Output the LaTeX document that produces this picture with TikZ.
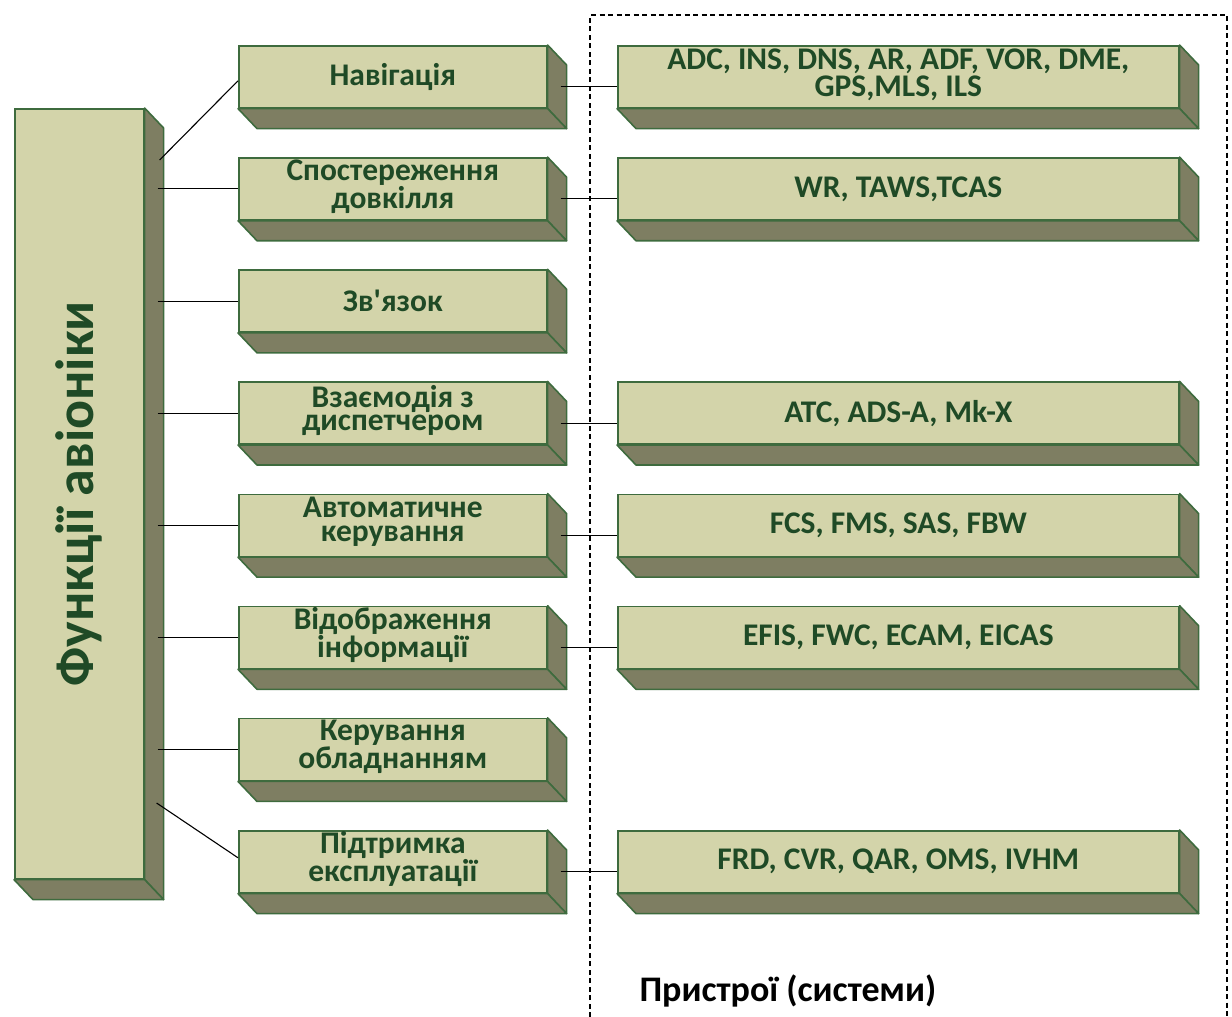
\documentclass[tikz,border=0pt]{standalone}
\usepackage{fontspec}
\setmainfont{Carlito}
\usetikzlibrary{calc,backgrounds}
\definecolor{face}{HTML}{D3D4AA}
\definecolor{side}{HTML}{7E7E62}
\definecolor{edge}{HTML}{3E6B3E}
\definecolor{txt}{HTML}{1F4A26}
\begin{document}
\begin{tikzpicture}[x=1pt,y=-1pt,
  front/.style={draw=edge, fill=face, line width=1.6pt, inner sep=0pt, anchor=north west},
  lbox/.style={front, minimum width=308pt, minimum height=62pt},
  rbox/.style={front, minimum width=561pt, minimum height=62pt},
  label/.style={inner sep=0pt, align=center, text=txt, font=\bfseries\fontsize{31.5}{23.5}\selectfont},
  rlabel/.style={label, font=\bfseries\fontsize{31.5}{26.5}\selectfont},
  depthface/.style={fill=side, draw=edge, line width=1.6pt, line join=round},
  link/.style={draw=black, line width=1.1pt}]
\useasboundingbox (0,0) rectangle (1232,1017);

% dashed frame
\draw[black, line width=1.2pt, dash pattern=on 5pt off 3.5pt] (590,1017) -- (590,15) -- (1227,15) -- (1227,1017);

% main box
\node[front, minimum width=129pt, minimum height=770pt] (main) at (14,108) {};
\node[rotate=90, font=\bfseries\fontsize{54}{54}\selectfont, text=txt] (maintext) at (main.center) {Функції авіоніки};

% left column (faces)
\foreach \i/\y in {1/45,2/157.14,3/269.28,4/381.42,5/493.56,6/605.7,7/717.84,8/829.98}{
  \node[lbox] (f\i) at (238,\y) {};
}
% right column (faces)
\foreach \i/\y in {1/45,2/157.14,4/381.42,5/493.56,6/605.7,8/829.98}{
  \node[rbox] (r\i) at (617,\y) {};
}

% left labels
\node[label] (t1) at (f1.center) {Навігація};
\node[label] (t2) at ($(f2.center)+(0,-2.5)$) {Спостереження\\довкілля};
\node[label] (t3) at (f3.center) {Зв\textquotesingle язок};
\node[label] (t4) at ($(f4.center)+(0,-2.5)$) {Взаємодія з\\диспетчером};
\node[label] (t5) at ($(f5.center)+(0,-3.5)$) {Автоматичне\\керування};
\node[label] (t6) at ($(f6.center)+(0,-2.5)$) {Відображення\\інформації};
\node[label] (t7) at ($(f7.center)+(0,-2.5)$) {Керування\\обладнанням};
\node[label] (t8) at ($(f8.center)+(0,-2.5)$) {Підтримка\\експлуатації};

% right labels
\node[rlabel] (s1) at ($(r1.center)+(0,-2)$) {ADC, INS, DNS, AR, ADF, VOR, DME,\\GPS,MLS, ILS};
\node[rlabel] (s2) at (r2.center) {WR, TAWS,TCAS};
\node[rlabel] (s4) at (r4.center) {ATC, ADS-A, Mk-X};
\node[rlabel] (s5) at (r5.center) {FCS, FMS, SAS, FBW};
\node[rlabel] (s6) at (r6.center) {EFIS, FWC, ECAM, EICAS};
\node[rlabel] (s8) at (r8.center) {FRD, CVR, QAR, OMS, IVHM};

% extrusions
\begin{scope}[on background layer]
\foreach \n in {main,f1,f2,f3,f4,f5,f6,f7,f8,r1,r2,r4,r5,r6,r8}{
  \path[depthface] (\n.north east) -- ++(19,20) -- ($(\n.south east)+(19,20)$) -- (\n.south east) -- cycle;
  \path[depthface] (\n.south west) -- (\n.south east) -- ++(19,20) -- ($(\n.south west)+(19,20)$) -- cycle;
}
\end{scope}

% connectors main -> functions
\draw[link] ($(main.north east)+(15,52)$) -- ($(f1.west)+(0,4)$);
\foreach \n in {f2,f3,f4,f5,f6,f7}{
  \draw[link] ($(main.east |- \n.west)+(13,0)$) -- (\n.west);
}
\draw[link] ($(main.north east)+(12,695)$) -- ($(f8.west)+(0,-4)$);

% connectors functions -> devices
\foreach \a/\b in {f1/r1,f2/r2,f4/r4,f5/r5,f6/r6,f8/r8}{
  \draw[link] ($(\a.east)+(13,10)$) -- ($(\b.west)+(0,10)$);
}

% caption
\node[anchor=base west, font=\bfseries\fontsize{36}{36}\selectfont, text=black] (caption) at (636,1001) {Пристрої (системи)};
\end{tikzpicture}
\end{document}
